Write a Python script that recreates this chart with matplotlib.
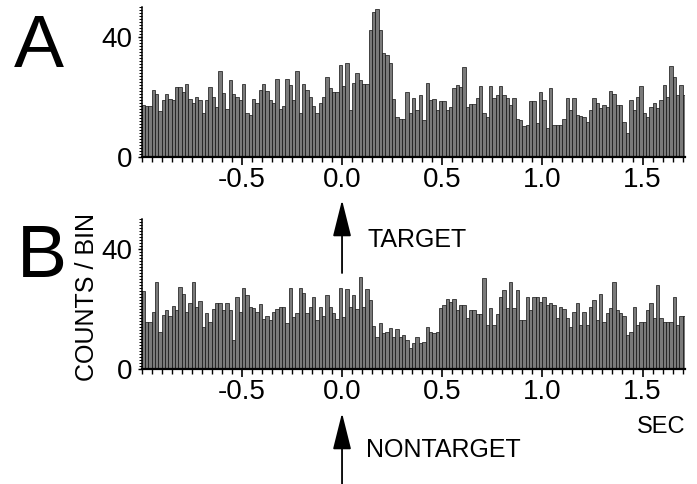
import matplotlib
matplotlib.use("Agg")
import matplotlib.pyplot as plt
from matplotlib.ticker import MultipleLocator, FixedLocator, NullFormatter
import numpy as np

plt.rcParams["font.family"] = ["Liberation Sans", "DejaVu Sans"]

# PSTH bins: 1/60 s starting at -1.0 s
BIN_SEC = 1.0 / 60.0
T_START = -1.0

# counts per bin (panel A = target, panel B = nontarget)
counts_target = [
    17.3, 17.0, 17.0, 22.3, 21.0, 15.5, 19.0, 21.0, 19.4, 19.0,
    23.2, 23.2, 21.8, 24.2, 19.2, 17.9, 20.1, 19.0, 14.8, 19.0,
    23.2, 20.1, 16.8, 28.7, 21.2, 15.9, 25.7, 20.9, 20.1, 19.0,
    24.2, 14.8, 14.0, 19.2, 18.0, 22.5, 24.2, 22.0, 19.0, 17.9,
    25.9, 15.9, 17.0, 25.9, 24.0, 19.0, 28.7, 14.8, 24.2, 22.3,
    20.1, 17.0, 14.8, 18.1, 20.1, 26.8, 22.9, 21.8, 21.8, 30.7,
    23.7, 31.4, 15.7, 24.8, 28.1, 25.7, 24.3, 24.3, 42.3, 48.4,
    49.2, 42.3, 34.6, 34.0, 31.2, 19.5, 13.3, 12.6, 12.6, 21.8,
    14.6, 19.6, 15.7,
    20.7, 12.3, 24.6, 19.0, 19.2, 15.7, 18.7, 18.7, 15.7, 16.8,
    22.9, 24.0, 23.4, 30.1, 16.8, 17.6, 17.6, 19.6, 23.7, 14.6,
    13.4, 23.7, 19.6, 20.7, 23.7, 20.7, 19.6, 17.3, 19.6, 12.8,
    12.3, 10.3, 10.7, 18.7, 18.7, 11.2, 21.8, 19.0, 9.6, 22.9,
    10.7, 10.7, 10.7, 12.6, 19.6, 15.7, 19.6, 14.0, 13.7, 13.4,
    11.8, 15.7, 19.6, 18.1, 16.2, 17.3, 16.8, 22.0, 21.0, 17.3,
    17.3, 11.8, 7.9, 19.0, 15.7, 20.0, 23.8, 14.6, 13.4, 16.8,
    17.9, 16.2, 19.0, 24.0, 20.1, 30.3, 26.6, 20.7, 24.0, 20.7,
]

counts_nontarget = [
    26.1, 15.8, 15.8, 19.1, 29.1, 12.4, 18.0, 19.7, 17.7, 21.0,
    19.7, 27.2, 25.0, 19.1, 21.9, 29.1, 20.8,
    22.8, 14.1, 18.8, 15.8, 19.9, 21.9, 21.9, 19.7, 21.9, 19.7,
    9.7, 23.9, 19.1, 26.9, 24.7, 20.8, 20.2, 19.1, 21.7, 16.6,
    17.7, 16.3, 19.1, 19.9, 20.8, 20.8, 15.2, 26.9, 17.4, 18.6,
    26.9, 25.2, 18.6, 20.8, 23.9, 16.3, 20.8, 17.7, 24.7, 20.8,
    18.6, 16.6, 26.9, 17.4, 26.6, 20.8, 24.7, 19.9, 30.6, 20.8,
    26.6, 23.0, 14.3, 10.8, 15.2, 11.9, 12.4, 13.6, 10.6, 13.2,
    10.8, 11.3, 9.7, 6.9, 8.6, 10.8,
    8.6, 9.1, 14.1, 12.4, 11.9, 12.4, 20.2, 21.3, 23.2, 22.4,
    23.2, 19.7, 21.3, 21.3, 16.9, 19.7, 19.7, 18.3, 18.3, 30.2,
    14.7, 20.2, 14.7, 18.3, 24.1, 26.3, 20.2, 29.1, 20.2, 26.3,
    16.3, 16.3, 23.9, 19.7, 23.9, 24.1, 22.4, 23.9, 21.3, 21.9,
    21.3, 16.9, 20.8, 19.9, 16.9, 14.1, 19.1, 21.9, 14.7, 19.1,
    14.7, 20.8, 23.0, 16.3, 25.0, 15.8, 18.6, 20.2, 29.1, 19.7,
    18.6, 17.7, 11.3, 12.4, 20.8, 14.7, 15.8, 15.8, 19.7, 21.9,
    16.9, 28.0, 16.9, 15.8, 15.8, 15.8, 23.9, 14.7, 17.7, 17.7,
]

x_major = [-0.5, 0.0, 0.5, 1.0, 1.5]
x_labels = ["-0.5", "0.0", "0.5", "1.0", "1.5"]
y_major = [0, 40]
y_labels = ["0", "40"]
XLIM = (-1.0, 1.712)
YLIM = (0, 50)

W, H = 697, 484


def draw_psth(ax, counts):
    left = T_START + np.arange(len(counts)) * BIN_SEC
    ax.bar(left, counts, width=BIN_SEC, align="edge", color="#7a7a7a",
           edgecolor="#111111", linewidth=0.5)
    ax.set_xlim(*XLIM)
    ax.set_ylim(*YLIM)
    ax.patch.set_visible(False)
    for s in ("top", "right"):
        ax.spines[s].set_visible(False)
    ax.spines["left"].set_linewidth(1.1)
    ax.spines["bottom"].set_linewidth(1.6)
    ax.xaxis.set_major_locator(FixedLocator(x_major))
    ax.set_xticklabels(x_labels)
    ax.xaxis.set_minor_locator(MultipleLocator(0.05))
    ax.yaxis.set_major_locator(FixedLocator(y_major))
    ax.set_yticklabels(y_labels)
    ax.yaxis.set_minor_locator(MultipleLocator(1))
    ax.yaxis.set_minor_formatter(NullFormatter())
    ax.tick_params(axis="x", which="major", direction="out", length=6,
                   width=1.2, labelsize=20, pad=1)
    ax.tick_params(axis="x", which="minor", direction="out", length=3.5,
                   width=1.0)
    ax.tick_params(axis="y", which="major", direction="out", length=3,
                   width=1.0, labelsize=20, pad=4)
    ax.tick_params(axis="y", which="minor", direction="out", length=2,
                   width=0.7)


def arrow_at_zero(ax, tip_px, tail_px):
    # vertical arrow at t = 0, y given in figure pixels from the top
    ax.annotate("", xy=(0.0, 1 - tip_px / H), xytext=(0.0, 1 - tail_px / H),
                xycoords=("data", "figure fraction"),
                textcoords=("data", "figure fraction"),
                arrowprops=dict(arrowstyle="-|>,head_length=0.4,head_width=0.1",
                                mutation_scale=57, lw=1.3, color="black",
                                shrinkA=0, shrinkB=0),
                annotation_clip=False, zorder=10)


fig = plt.figure(figsize=(W / 100, H / 100), dpi=100)
ax_a = fig.add_axes([141.7 / W, 1 - 157 / H, 543.3 / W, 150 / H])
ax_b = fig.add_axes([141.7 / W, 1 - 369 / H, 543.3 / W, 150 / H])

draw_psth(ax_a, counts_target)
draw_psth(ax_b, counts_nontarget)

arrow_at_zero(ax_a, 200, 273)
arrow_at_zero(ax_b, 413, 490)

fig.text(39 / W, 1 - 67 / H, "A", fontsize=54, ha="center", va="baseline")
fig.text(41.5 / W, 1 - 277 / H, "B", fontsize=54, ha="center", va="baseline")
fig.text(87 / W, 1 - 297 / H, "COUNTS / BIN", fontsize=18, rotation=90,
         ha="center", va="center")
fig.text(368 / W, 1 - 247 / H, "TARGET", fontsize=18, ha="left", va="baseline")
fig.text(366 / W, 1 - 457 / H, "NONTARGET", fontsize=18, ha="left",
         va="baseline")
fig.text(685 / W, 1 - 433 / H, "SEC", fontsize=17, ha="right", va="baseline")

fig.savefig("out.png", dpi=100)
